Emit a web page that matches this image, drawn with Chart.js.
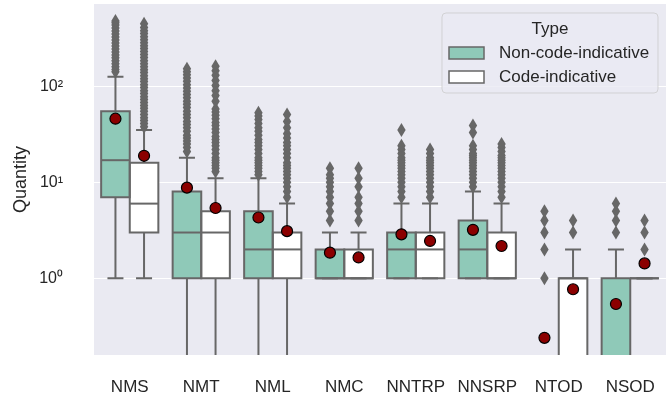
<!DOCTYPE html>
<html><head><meta charset="utf-8">
<script src="https://cdn.jsdelivr.net/npm/chart.js@4"></script>
<style>html,body{margin:0;padding:0;background:#fff}canvas{display:block}</style>
</head><body>
<canvas id="c" width="667" height="394"></canvas>
<script>
// ---------- data ----------
const categories = ['NMS','NMT','NML','NMC','NNTRP','NNSRP','NTOD','NSOD'];
const seriesNames = ['Non-code-indicative','Code-indicative'];
const tickValues = [1, 10, 100];
const tickLabels = ['10⁰','10¹','10²'];
const yMin = 0.159, yMax = 720;

// Non-code-indicative
const nonQ1     = [7, 1, 1, 1, 1, 1, 0, 0];
const nonMedian = [17, 3, 2, 1, 2, 2, 0, 0];
const nonQ3     = [55, 8, 5, 2, 3, 4, 0, 1];
const nonWhLo   = [1, 0, 0, 1, 1, 1, 0, 0];
const nonWhHi   = [126, 18, 11, 3, 6, 8, 0, 2];
const nonMean   = [46, 8.8, 4.3, 1.85, 2.87, 3.2, 0.24, 0.54];
const nonFliers = [
  [142,150,160,172,185,198,212,228,245,263,283,304,326,350,376,404,434,460,480],
  [21,23,25,27,29,31,34,37,40,43,47,51,55,60,65,70,76,82,89,96,104,113,122,132,142,152],
  [12,13,14,15,16,17,18,20,22,24,26,28,31,34,37,41,45,49,53],
  [4,5,6,7,8,9,10,11,12,14],
  [7,8,9,10,11,12,13,14,15,16,17,18,20,22,24,35],
  [9,10,11,12,13,14,15,16,17,18,19,20,22,24,33,39],
  [1,2,3,4,5],
  [3,4,5,6]
];

// Code-indicative
const codeQ1     = [3, 1, 1, 1, 1, 1, 0, 1];
const codeMedian = [6, 3, 2, 1, 2, 1, 1, 1];
const codeQ3     = [16, 5, 3, 2, 3, 3, 1, 1];
const codeWhLo   = [1, 0, 0, 1, 1, 1, 0, 1];
const codeWhHi   = [35, 11, 6, 3, 6, 6, 2, 1];
const codeMean   = [18.9, 5.4, 3.1, 1.65, 2.45, 2.17, 0.77, 1.43];
const codeFliers = [
  [38,41,44,47,51,55,59,63,68,73,78,84,90,97,104,112,120,129,139,149,160,172,185,199,214,230,247,265,285,306,329,354,380,409,449],
  [13,14,15,16,17,18,20,22,24,26,28,30,33,36,39,42,46,50,54,58,70,80,90,102,115,130,145,162],
  [7,8,9,10,11,12,13,14,15,16,18,20,22,24,26,29,32,37,43,51],
  [4,5,6,7,9,11,14],
  [7,8,9,10,11,12,13,14,15,16,17,18,20,22],
  [7,8,9,10,11,12,13,14,15,16,17,18,19,21,23,25],
  [3,4],
  [2,3,4]
];

// ---------- styles ----------
const FONT = "'Liberation Sans', Arial, Helvetica, sans-serif";
const fills = ['#8fc9b8', '#ffffff'];
const GRAY = '#676767';
const TEXT = '#262626';
const BG = '#eaeaf2';

const stats = [
  {q1: nonQ1, med: nonMedian, q3: nonQ3, lo: nonWhLo, hi: nonWhHi, mean: nonMean, fl: nonFliers},
  {q1: codeQ1, med: codeMedian, q3: codeQ3, lo: codeWhLo, hi: codeWhHi, mean: codeMean, fl: codeFliers}
];

Chart.defaults.font.family = FONT;

const boxPlugin = {
  id: 'boxes',
  beforeDraw(chart) {
    const {ctx, chartArea: a} = chart;
    ctx.save();
    ctx.fillStyle = BG;
    ctx.fillRect(a.left, a.top, a.right - a.left, a.bottom - a.top);
    ctx.restore();
  },
  afterDatasetsDraw(chart) {
    const {ctx, chartArea: a} = chart;
    const ys = chart.scales.y;
    const py = v => v > 0 ? ys.getPixelForValue(v) : a.bottom + 20;
    ctx.save();
    ctx.beginPath();
    ctx.rect(a.left, a.top, a.right - a.left, a.bottom - a.top);
    ctx.clip();
    ctx.strokeStyle = GRAY;
    ctx.lineWidth = 2;
    ctx.lineCap = 'butt';
    stats.forEach((s, di) => {
      const meta = chart.getDatasetMeta(di);
      meta.data.forEach((bar, i) => {
        const {x, width} = bar.getProps(['x', 'width'], true);
        const L = x - width / 2, R = x + width / 2;
        const yq1 = py(s.q1[i]), yq3 = py(s.q3[i]), ymed = py(s.med[i]);
        if (s.q3[i] > 0) {
          ctx.beginPath();
          if (s.q1[i] > 0) {
            ctx.rect(L, yq3, R - L, yq1 - yq3);
          } else {
            ctx.moveTo(L, yq1); ctx.lineTo(L, yq3); ctx.lineTo(R, yq3); ctx.lineTo(R, yq1);
          }
          ctx.stroke();
        }
        const capHalf = width * 0.28;
        if (s.hi[i] > 0) {
          const yh = py(s.hi[i]);
          ctx.beginPath();
          ctx.moveTo(x, yq3); ctx.lineTo(x, yh);
          ctx.moveTo(x - capHalf, yh); ctx.lineTo(x + capHalf, yh);
          ctx.stroke();
        }
        if (s.q1[i] > 0) {
          const yl = py(s.lo[i]);
          ctx.beginPath();
          ctx.moveTo(x, yq1); ctx.lineTo(x, yl);
          if (s.lo[i] > 0) { ctx.moveTo(x - capHalf, yl); ctx.lineTo(x + capHalf, yl); }
          ctx.stroke();
        }
        if (s.med[i] > 0) {
          ctx.beginPath();
          ctx.moveTo(L, ymed); ctx.lineTo(R, ymed);
          ctx.stroke();
        }
        ctx.fillStyle = GRAY;
        s.fl[i].forEach(v => {
          const yy = py(v);
          ctx.beginPath();
          ctx.moveTo(x, yy - 7); ctx.lineTo(x + 4.2, yy); ctx.lineTo(x, yy + 7); ctx.lineTo(x - 4.2, yy);
          ctx.closePath();
          ctx.fill();
        });
      });
    });
    stats.forEach((s, di) => {
      const meta = chart.getDatasetMeta(di);
      meta.data.forEach((bar, i) => {
        const {x} = bar.getProps(['x'], true);
        const yy = py(s.mean[i]);
        ctx.beginPath();
        ctx.arc(x, yy, 5.5, 0, Math.PI * 2);
        ctx.fillStyle = '#8b0000';
        ctx.fill();
        ctx.lineWidth = 1.2;
        ctx.strokeStyle = '#000';
        ctx.stroke();
      });
    });
    ctx.restore();
  },
  afterDraw(chart) {
    const ctx = chart.ctx;
    ctx.save();
    const lx = 442, ly = 13, lw = 216, lh = 80, r = 4;
    ctx.beginPath();
    ctx.roundRect(lx, ly, lw, lh, r);
    ctx.fillStyle = 'rgba(234,234,242,0.8)';
    ctx.fill();
    ctx.lineWidth = 1;
    ctx.strokeStyle = 'rgba(204,204,204,0.8)';
    ctx.stroke();
    ctx.fillStyle = TEXT;
    ctx.font = 'normal 17px ' + FONT;
    ctx.textAlign = 'center';
    ctx.textBaseline = 'middle';
    ctx.fillText('Type', lx + lw / 2, 29);
    const rows = [53, 77];
    seriesNames.forEach((name, k) => {
      ctx.fillStyle = fills[k];
      ctx.fillRect(449, rows[k] - 6, 35, 12);
      ctx.strokeStyle = GRAY;
      ctx.lineWidth = 1.5;
      ctx.strokeRect(449, rows[k] - 6, 35, 12);
      ctx.fillStyle = TEXT;
      ctx.textAlign = 'left';
      ctx.fillText(name, 499, rows[k]);
    });
    ctx.restore();
  }
};

new Chart(document.getElementById('c'), {
  type: 'bar',
  data: {
    labels: categories,
    datasets: stats.map((s, k) => ({
      label: seriesNames[k],
      // box spans q1..q3; a q1 of 0 cannot sit on a log axis, so it starts at the axis floor
      data: s.q1.map((v, i) => [v > 0 ? v : yMin, s.q3[i] > 0 ? s.q3[i] : yMin]),
      backgroundColor: fills[k],
      borderWidth: 0,
      categoryPercentage: 0.8,
      barPercentage: 1.0
    }))
  },
  options: {
    responsive: false,
    animation: false,
    devicePixelRatio: 1,
    layout: {padding: {top: 4, right: 1, left: 0, bottom: 0}},
    plugins: {legend: {display: false}, tooltip: {enabled: false}},
    scales: {
      x: {
        grid: {display: false, drawTicks: false},
        border: {display: false},
        ticks: {color: TEXT, font: {size: 17}, padding: 22, maxRotation: 0, autoSkip: false},
        afterFit: sc => { sc.height = 39; sc.paddingLeft = 0; sc.paddingRight = 0; }
      },
      y: {
        type: 'logarithmic',
        min: yMin, max: yMax,
        bounds: 'data',
        grid: {color: '#ffffff', lineWidth: 1, drawTicks: false},
        border: {display: false},
        ticks: {
          color: TEXT, font: {size: 16}, padding: 31,
          callback: v => { const k = tickValues.indexOf(v); return k >= 0 ? tickLabels[k] : ''; }
        },
        afterBuildTicks: sc => { sc.ticks = tickValues.map(v => ({value: v})); },
        afterFit: sc => { sc.width = 94; sc.paddingTop = 0; sc.paddingBottom = 0; },
        title: {display: true, text: 'Quantity', color: TEXT, font: {size: 18}, padding: {top: 10, bottom: 0}}
      }
    }
  },
  plugins: [boxPlugin]
});
</script>
</body></html>
